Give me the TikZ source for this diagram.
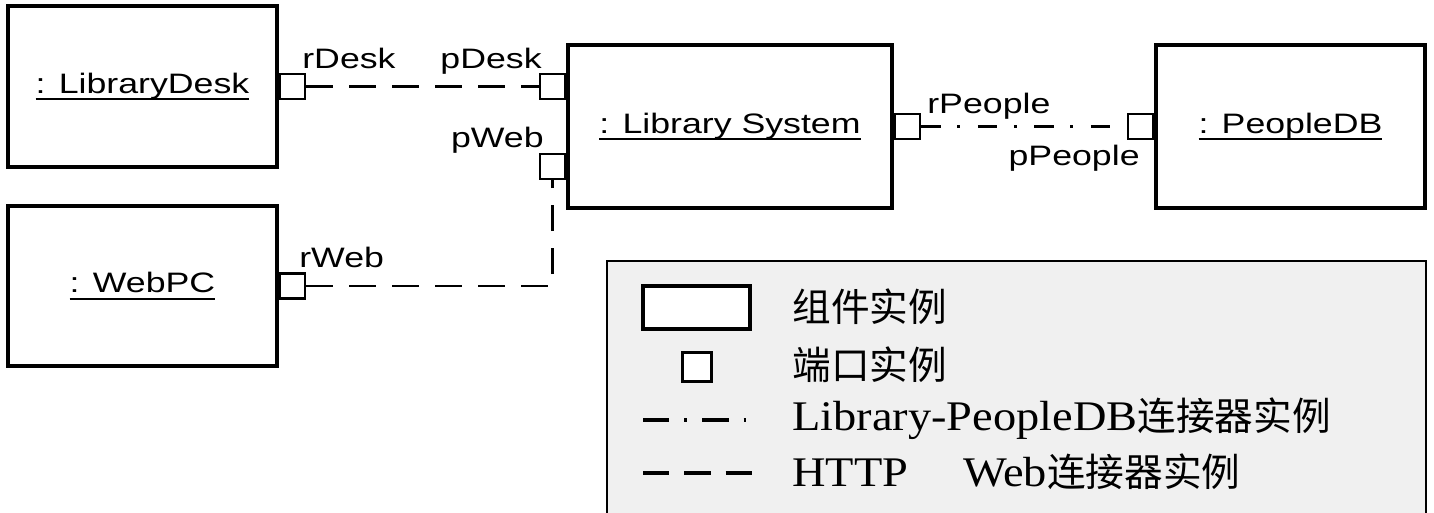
\documentclass[tikz,border=0pt]{standalone}
\usepackage{fontspec}
\setmainfont[FakeStretch=1.27]{Liberation Sans}
\newfontfamily\keyserif[FakeStretch=1.1]{Liberation Serif}
\newfontfamily\cjk{Noto Sans CJK SC}
\usepackage{tikz}
\usetikzlibrary{calc}

% underlined instance name
\newcommand\instname[1]{\setbox0\hbox{#1}\rlap{\rule[-0.26em]{\wd0}{1.1pt}}\box0}

\begin{document}
\begin{tikzpicture}[
  x=0.02cm, y=-0.02cm,
  every node/.style={font=\fontsize{16}{18}\selectfont},
  comp/.style={draw, line width=2pt, fill=white, inner sep=0pt},
  port/.style={draw, line width=1.4pt, fill=white, inner sep=0pt, minimum size=0.5cm},
  lbl/.style={inner sep=0pt},
  http/.style={line width=1.2pt, dash pattern=on 15pt off 9.5pt},
  peopleline/.style={line width=1.2pt, dash pattern=on 11pt off 9.5pt on 1.7pt off 10pt},
  keybox/.style={draw, line width=1.2pt, fill=black!6, anchor=north west, inner sep=0pt},
  keytext/.style={anchor=west, inner sep=0pt, font=\fontsize{22}{24}\selectfont}
]
  \useasboundingbox (0,0) rectangle (1434,512);

  % component instances
  \node[comp, minimum width=5.38cm, minimum height=3.22cm] (desk) at (142.5,86.5) {\instname{: LibraryDesk}};
  \node[comp, minimum width=5.38cm, minimum height=3.2cm] (webpc) at (142.5,286) {\instname{: WebPC}};
  \node[comp, minimum width=6.48cm, minimum height=3.26cm] (libsys) at (730,126.5) {\instname{: Library System}};
  \node[comp, minimum width=5.38cm, minimum height=3.26cm] (peopledb) at (1290.5,126.5) {\instname{: PeopleDB}};

  % ports
  \node[port, anchor=west] (rdesk) at (desk.east) {};
  \node[port, anchor=west] (rweb) at (webpc.east) {};
  \node[port, anchor=west] (rpeople) at (libsys.east) {};
  \node[port, anchor=east] (pdesk) at (libsys.west |- rdesk) {};
  \node[port, anchor=east] (pweb) at ($(libsys.west)+(0,40)$) {};
  \node[port, anchor=east] (ppeople) at (peopledb.west) {};

  % port names
  \node[lbl, anchor=base west] at (302,68) {rDesk};
  \node[lbl, anchor=base east] at (542,68) {pDesk};
  \node[lbl, anchor=base east] at (544,147) {pWeb};
  \node[lbl, anchor=base west] at (299,267) {rWeb};
  \node[lbl, anchor=base west] at (927,113) {rPeople};
  \node[lbl, anchor=base east] at (1140,165) {pPeople};

  % connectors
  \draw[http] (rdesk) -- (pdesk);
  \draw[http] (rweb.east) -| (pweb.south);
  \draw[peopleline] (rpeople) -- (ppeople);

  % legend
  \node[keybox, minimum width=16.38cm, minimum height=5.3cm] (legend) at (606,260) {};
  \node[comp, minimum width=2.14cm, minimum height=0.86cm] (keycomp) at (696.5,307.5) {};
  \node[port, line width=1.8pt, minimum size=0.58cm] (keyport) at (697,367) {};
  \coordinate (keyA) at (643,420);
  \coordinate (keyB) at (752,420);
  \coordinate (keyC) at (643,473);
  \coordinate (keyD) at (752,473);
  \draw[line width=1.8pt, dash pattern=on 15pt off 8.5pt on 1.7pt off 8.5pt] (keyA) -- (keyB);
  \draw[line width=1.8pt, dash pattern=on 15pt off 8.5pt] (keyC) -- (keyD);
  \node[keytext] at (792,307) {\cjk 组件实例};
  \node[keytext] at (792,365) {\cjk 端口实例};
  \node[keytext] at (792,419) {\keyserif\fontsize{24}{26}\selectfont Library-PeopleDB\cjk\fontsize{22}{24}\selectfont 连接器实例};
  \node[keytext] at (792,472) {\keyserif\fontsize{24}{26}\selectfont HTTP\hspace{1.1cm}Web\cjk\fontsize{22}{24}\selectfont 连接器实例};
\end{tikzpicture}
\end{document}
